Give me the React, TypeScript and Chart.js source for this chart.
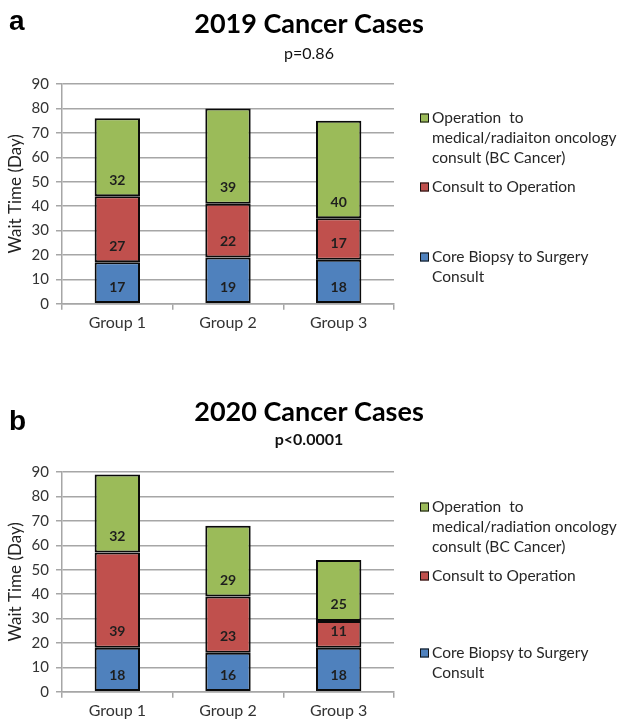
import React, { useEffect, useRef } from "react";
import { Chart, registerables } from "chart.js";

Chart.register(...registerables);

// ---- data ----
const categories = ["Group 1", "Group 2", "Group 3"];

const biopsy2019 = [17, 19, 18];
const consult2019 = [27, 22, 17];
const operation2019 = [32, 39, 40];

const biopsy2020 = [18, 16, 18];
const consult2020 = [39, 23, 11];
const operation2020 = [32, 29, 25];

const legendBiopsy = ["Core Biopsy to Surgery", "Consult"];
const legendConsult = ["Consult to Operation"];
const legendOperation2019 = ["Operation  to", "medical/radiaiton oncology", "consult (BC Cancer)"];
const legendOperation2020 = ["Operation  to", "medical/radiation oncology", "consult (BC Cancer)"];

const title2019 = "2019 Cancer Cases";
const subtitle2019 = "p=0.86";
const title2020 = "2020 Cancer Cases";
const subtitle2020 = "p<0.0001";
const yAxisTitle = "Wait Time (Day)";
const yMin = 0;
const yMax = 90;
const yStep = 10;

// ---- styles ----
const BLUE = "#4F81BD";
const RED = "#C0504D";
const GREEN = "#9BBB59";
const GRID = "#a6a6a6";
const FONT = "Lato, 'Open Sans', sans-serif";

const overlayPlugin = {
  id: "overlay",
  afterDatasetsDraw(chart: any, _args: any, opts: any) {
    const ctx = chart.ctx;
    const y = chart.scales.y;
    ctx.save();
    // value labels
    ctx.font = `bold 14px ${FONT}`;
    ctx.fillStyle = "#1e1e1e";
    ctx.textAlign = "center";
    ctx.textBaseline = "middle";
    chart.data.datasets.forEach((ds: any, i: number) => {
      const meta = chart.getDatasetMeta(i);
      meta.data.forEach((bar: any, j: number) => {
        let base = 0;
        for (let k = 0; k < i; k++) base += chart.data.datasets[k].data[j];
        ctx.fillText(String(ds.data[j]), bar.x, y.getPixelForValue(base) - opts.labelLift);
      });
    });
    // title + subtitle, centred on the whole canvas
    const cx = chart.width / 2;
    ctx.fillStyle = "#000";
    ctx.font = `bold 27px ${FONT}`;
    ctx.fillText(opts.title, cx, opts.titleY);
    ctx.fillStyle = "#111";
    ctx.font = `${opts.subBold ? "bold " : ""}16px ${FONT}`;
    ctx.fillText(opts.subtitle, cx, opts.subY);
    // legend
    ctx.font = `15.5px ${FONT}`;
    ctx.textAlign = "left";
    chart.data.datasets.forEach((ds: any, i: number) => {
      const item = opts.legend[i];
      ctx.fillStyle = ds.backgroundColor;
      ctx.fillRect(opts.legendX, item.y - 4.5, 9, 9);
      ctx.strokeStyle = "#111";
      ctx.lineWidth = 1;
      ctx.strokeRect(opts.legendX + 0.5, item.y - 4, 8, 8);
      ctx.fillStyle = "#262626";
      item.lines.forEach((ln: string, k: number) => {
        ctx.fillText(ln, opts.legendX + 12, item.y + k * opts.legendLineH);
      });
    });
    // panel letter
    ctx.font = "bold 28px 'Liberation Sans', Arial, sans-serif";
    ctx.fillStyle = "#000";
    ctx.textBaseline = "alphabetic";
    ctx.fillText(opts.letter, 9, opts.letterY);
    ctx.restore();
  },
};

function makeConfig(
  b: number[],
  c: number[],
  o: number[],
  opLegend: string[],
  title: string,
  subtitle: string,
  subBold: boolean,
  subY: number,
  letter: string,
  letterY: number,
  legendYs: number[]
): any {
  return {
    type: "bar",
    data: {
      labels: categories,
      datasets: [
        { label: legendBiopsy.join(" "), data: b, backgroundColor: BLUE },
        { label: legendConsult.join(" "), data: c, backgroundColor: RED },
        { label: opLegend.join(" "), data: o, backgroundColor: GREEN },
      ].map((d) => ({
        ...d,
        borderColor: "#0a0a0a",
        borderWidth: 2,
        borderSkipped: false,
        categoryPercentage: 1,
        barPercentage: 0.41,
      })),
    },
    plugins: [overlayPlugin],
    options: {
      responsive: false,
      animation: false,
      devicePixelRatio: 1,
      layout: { padding: { left: 0, right: 224, top: 84, bottom: 1 } },
      plugins: {
        legend: { display: false },
        tooltip: { enabled: false },
        title: { display: false },
        subtitle: { display: false },
        overlay: {
          labelLift: 16,
          legendX: 420,
          legendLineH: 20,
          title,
          subtitle,
          subBold,
          titleY: 24,
          subY,
          letter,
          letterY,
          legend: [
            { lines: legendBiopsy, y: legendYs[0] },
            { lines: legendConsult, y: legendYs[1] },
            { lines: opLegend, y: legendYs[2] },
          ],
        },
      },
      scales: {
        x: {
          stacked: true,
          grid: {
            display: true,
            drawOnChartArea: false,
            drawTicks: true,
            tickLength: 6,
            color: GRID,
            lineWidth: 1.5,
          },
          border: { display: true, color: GRID, width: 1.5 },
          ticks: { color: "#333", font: { family: FONT, size: 16 }, padding: 3 },
        },
        y: {
          stacked: true,
          min: yMin,
          max: yMax,
          afterFit(scale: any) {
            scale.width = 62;
          },
          ticks: { stepSize: yStep, color: "#333", font: { family: FONT, size: 15 }, padding: 7 },
          grid: { color: GRID, lineWidth: 1.5, tickLength: 6 },
          border: { display: true, color: GRID, width: 1.5 },
          title: {
            display: true,
            text: yAxisTitle,
            color: "#222",
            font: { family: FONT, size: 17 },
            padding: { top: 5, bottom: 0 },
          },
        },
      },
    },
  };
}

function Panel(props: { top: number; config: any }) {
  const ref = useRef<HTMLCanvasElement | null>(null);
  useEffect(() => {
    if (!ref.current) return;
    const chart = new Chart(ref.current, props.config);
    return () => chart.destroy();
  }, []);
  return (
    <div style={{ position: "absolute", left: 0, top: props.top, width: 618, height: 336 }}>
      <canvas ref={ref} width={618} height={336} style={{ display: "block" }} />
    </div>
  );
}

export default function App() {
  const cfgA = makeConfig(
    biopsy2019, consult2019, operation2019, legendOperation2019,
    title2019, subtitle2019, false, 54, "a", 30, [257, 187, 118]
  );
  const cfgB = makeConfig(
    biopsy2020, consult2020, operation2020, legendOperation2020,
    title2020, subtitle2020, true, 52, "b", 42, [265, 188, 119]
  );
  return (
    <div style={{ position: "absolute", left: 0, top: 0, width: 618, height: 724, background: "#fff" }}>
      <Panel top={0} config={cfgA} />
      <Panel top={388} config={cfgB} />
    </div>
  );
}
